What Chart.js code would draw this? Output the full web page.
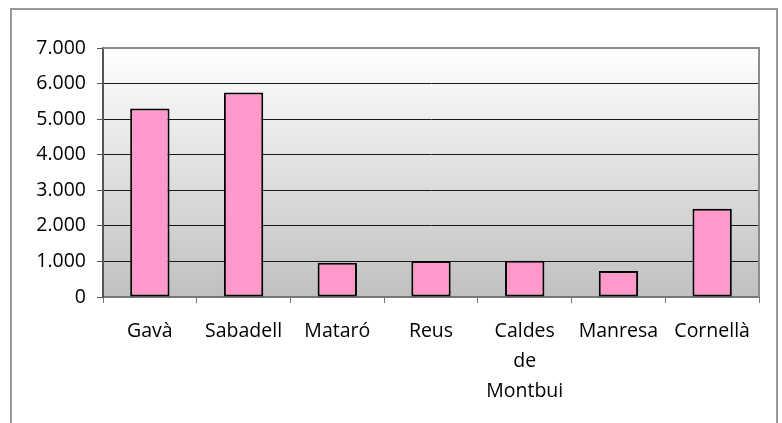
<!DOCTYPE html>
<html>
<head>
<meta charset="utf-8">
<script src="https://cdn.jsdelivr.net/npm/chart.js@4"></script>
<style>
    html, body { margin: 0; padding: 0; background: #ffffff; }
    #wrap { width: 782px; height: 423px; position: relative; }
</style>
</head>
<body>
<div id="wrap"><canvas id="barChart" width="782" height="423"></canvas></div>
<script>
// chart data
const cities = ['Gavà', 'Sabadell', 'Mataró', 'Reus', ['Caldes', 'de', 'Montbui'], 'Manresa', 'Cornellà'];
const values = [5300, 5750, 960, 1010, 1020, 730, 2480];
const yMax = 7000;
const yStep = 1000;

// outer frame + gradient plot background
const frame = {
    id: 'frame',
    beforeDraw(chart) {
        const ctx = chart.ctx;
        const a = chart.chartArea;
        ctx.save();
        ctx.strokeStyle = '#999999';
        ctx.lineWidth = 2;
        ctx.strokeRect(11, 9, 766, 430);
        const g = ctx.createLinearGradient(0, a.top, 0, a.bottom);
        g.addColorStop(0, '#ffffff');
        g.addColorStop(1, '#c0c0c0');
        ctx.fillStyle = g;
        ctx.fillRect(a.left, a.top, a.right - a.left, a.bottom - a.top);
        ctx.restore();
    },
    afterDatasetsDraw(chart) {
        const ctx = chart.ctx;
        const a = chart.chartArea;
        ctx.save();
        ctx.strokeStyle = '#8c8c8c';
        ctx.lineWidth = 2;
        ctx.beginPath();
        ctx.moveTo(a.left, a.top);
        ctx.lineTo(a.right, a.top);
        ctx.lineTo(a.right, a.bottom);
        ctx.stroke();
        ctx.restore();
    }
};

const ctx = document.getElementById('barChart').getContext('2d');
new Chart(ctx, {
    type: 'bar',
    data: {
        labels: cities,
        datasets: [{
            data: values,
            backgroundColor: '#ff99cc',
            borderColor: '#000000',
            borderWidth: 2,
            borderSkipped: false,
            barPercentage: 0.42,
            categoryPercentage: 1
        }]
    },
    options: {
        responsive: false,
        animation: false,
        layout: { padding: { left: 0, top: 48, right: 23, bottom: 0 } },
        plugins: {
            legend: { display: false },
            tooltip: { enabled: false }
        },
        scales: {
            x: {
                afterFit(scale) { scale.height = 126; },
                grid: {
                    offset: true,
                    drawOnChartArea: false,
                    drawTicks: true,
                    tickLength: 6,
                    tickColor: '#777777'
                },
                border: { color: '#777777', width: 2 },
                ticks: {
                    color: '#000000',
                    padding: 13,
                    maxRotation: 0,
                    autoSkip: false,
                    font: { family: 'Open Sans', size: 19.5, lineHeight: 1.54 }
                }
            },
            y: {
                min: 0,
                max: yMax,
                afterFit(scale) { scale.width = 103; },
                grid: {
                    color: '#1a1a1a',
                    lineWidth: 1,
                    tickLength: 6,
                    tickColor: '#555555'
                },
                border: { color: '#555555', width: 2 },
                ticks: {
                    stepSize: yStep,
                    color: '#000000',
                    padding: 11,
                    font: { family: 'Open Sans', size: 19.5 },
                    callback: v => String(v).replace(/\B(?=(\d{3})+(?!\d))/g, '.')
                }
            }
        }
    },
    plugins: [frame]
});
</script>
</body>
</html>
